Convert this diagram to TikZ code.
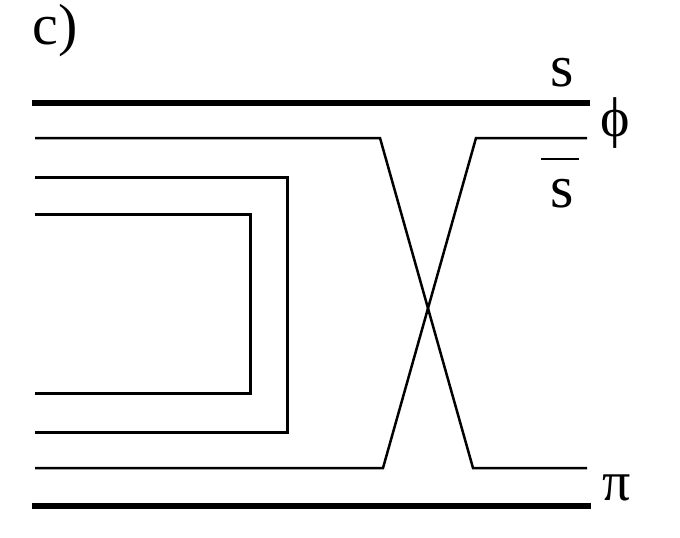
\documentclass[tikz,border=0pt]{standalone}
\usepackage{fontspec}
\setmainfont{Liberation Serif}
\begin{document}
\begin{tikzpicture}[x=1pt,y=-1pt,
  thickline/.style={line width=6pt},
  thinline/.style={line width=3pt},
  crossline/.style={line width=2.5pt, line join=miter},
  lab/.style={inner sep=0pt, font=\fontsize{60}{62}\selectfont}]
\useasboundingbox (0,0) rectangle (680,538);
% coordinates
\coordinate (t1) at (32,103);  \coordinate (t2) at (590,103);
\coordinate (b1) at (32,506);  \coordinate (b2) at (591,506);
\coordinate (a1) at (35,138);  \coordinate (a2) at (380,138);
\coordinate (a3) at (473,468); \coordinate (a4) at (587,468);
\coordinate (c1) at (587,138); \coordinate (c2) at (476,138);
\coordinate (c3) at (383,468); \coordinate (c4) at (35,468);
\coordinate (m1) at (35,177);  \coordinate (m2) at (287,177);
\coordinate (m3) at (287,432); \coordinate (m4) at (35,432);
\coordinate (n1) at (35,214);  \coordinate (n2) at (250,214);
\coordinate (n3) at (250,393); \coordinate (n4) at (35,393);
% lines
\draw[thickline] (t1) -- (t2);
\draw[thickline] (b1) -- (b2);
\draw[crossline] (a1) -- (a2) -- (a3) -- (a4);
\draw[crossline] (c1) -- (c2) -- (c3) -- (c4);
\draw[thinline] (m1) -- (m2) -- (m3) -- (m4);
\draw[thinline] (n1) -- (n2) -- (n3) -- (n4);
% labels
\node[lab] (lc) at (55,31) {\fontsize{58}{60}\selectfont c)};
\node[lab, anchor=base] (ls) at (562,86) {s};
\node[lab, anchor=base] (lsb) at (562,207) {s};
\draw[line width=2.5pt] (541,159) -- (579,159);
\node[lab] (lphi) at (615,123) {\fontsize{56}{58}\selectfont ϕ};
\node[lab] (lpi) at (617,488) {\fontsize{56}{58}\selectfont π};
\end{tikzpicture}
\end{document}
